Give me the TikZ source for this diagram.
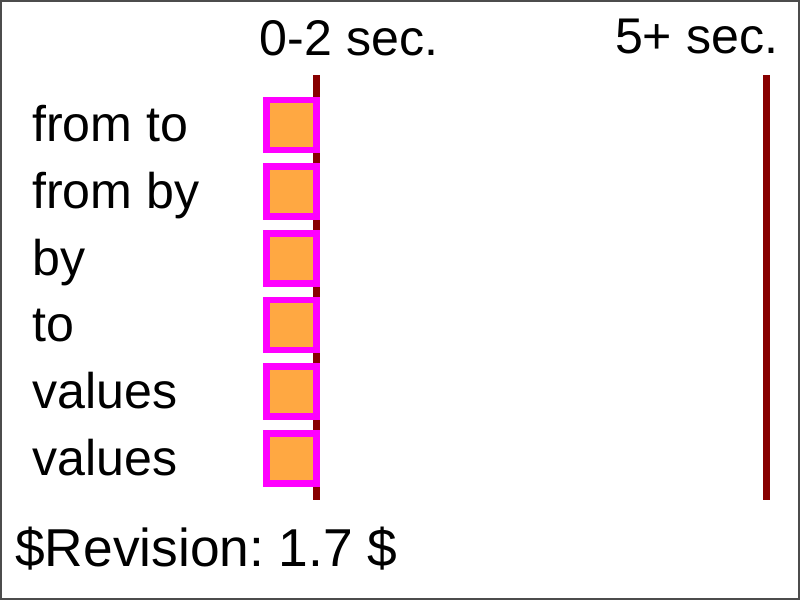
\documentclass[tikz,border=0pt]{standalone}
\usepackage{fontspec}
\setmainfont{Liberation Sans}
\frenchspacing
\definecolor{barorange}{RGB}{255,168,66}
\definecolor{barmagenta}{RGB}{255,0,255}
\definecolor{tickred}{RGB}{136,0,0}
\begin{document}
\begin{tikzpicture}[x=0.75pt,y=-0.75pt,
  lbl/.style={anchor=base west,inner sep=0pt,font=\fontsize{37.6pt}{40pt}\selectfont},
  rev/.style={anchor=base west,inner sep=0pt,font=\fontsize{40pt}{44pt}\selectfont},
  bar/.style={draw=barmagenta,fill=barorange,line width=5pt,minimum size=37.5pt,inner sep=0pt},
  tick/.style={draw=tickred,line width=5pt}]
\useasboundingbox (0,0) rectangle (800,600);
\draw[draw=black!70,line width=1.5pt] (1,1) rectangle (799,599);
% time marks
\coordinate (t0top) at (316.7,75);
\coordinate (t0bot) at (316.7,500);
\coordinate (t5top) at (766.7,75);
\coordinate (t5bot) at (766.7,500);
\draw[tick] (t0top) -- (t0bot);
\draw[tick] (t5top) -- (t5bot);
\node[lbl] (h0) at (259.5,55) {0-2 sec.};
\node[lbl] (h5) at (614.8,53.5) {5+ sec.};
% rows
\foreach \i/\t in {0/from to,1/from by,2/by,3/to,4/values,5/values}{
  \node[lbl] (l\i) at (32,141.7+66.67*\i) {\t};
  \node[bar] (b\i) at (291.7,125+66.67*\i) {};
}
\node[rev] (rev) at (15,566.7) {\$Revision: 1.7 \$};
\end{tikzpicture}
\end{document}
